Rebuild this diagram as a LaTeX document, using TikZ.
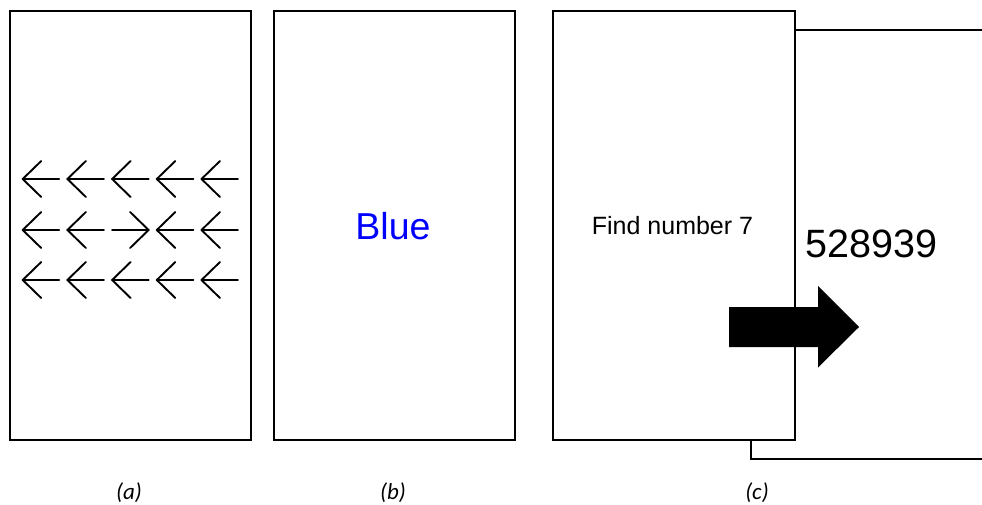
\documentclass[tikz,border=0pt]{standalone}
\usepackage{fontspec}
\setmainfont{Liberation Sans}
\newfontfamily\capfont{Carlito}
\begin{document}
\begin{tikzpicture}[x=1pt,y=-1pt,
  panel/.style={draw=black, line width=1.6pt, fill=white},
  chev/.style={draw=black, line width=1.9pt, line cap=round, line join=round},
  caplabel/.style={font=\capfont\itshape\fontsize{23}{26}\selectfont, inner sep=0pt},
  bigarrow/.style={fill=black, draw=none}]
\clip (0,0) rectangle (982,504);
\fill[white] (0,0) rectangle (982,504);
% panel (a)
\node[panel, minimum width=241pt, minimum height=429pt, anchor=north west, inner sep=0pt] (pa) at (9,10) {};
\foreach \r/\yy in {1/179, 2/230, 3/280} {
  \foreach \c in {0,...,4} {
    \pgfmathsetmacro{\xs}{22.7+44.7*\c}
    \pgfmathsetmacro{\xe}{\xs+36.5}
    \ifnum\r=2 \ifnum\c=2
      \draw[chev] (\xs,\yy) -- (\xe,\yy);
      \draw[chev] (\xe-18.5,\yy-18) -- (\xe,\yy) -- (\xe-18.5,\yy+18);
    \else
      \draw[chev] (\xe,\yy) -- (\xs,\yy);
      \draw[chev] (\xs+18.5,\yy-18) -- (\xs,\yy) -- (\xs+18.5,\yy+18);
    \fi\else
      \draw[chev] (\xe,\yy) -- (\xs,\yy);
      \draw[chev] (\xs+18.5,\yy-18) -- (\xs,\yy) -- (\xs+18.5,\yy+18);
    \fi
  }
}
% panel (b)
\node[panel, minimum width=241pt, minimum height=429pt, anchor=north west, inner sep=0pt] (pb) at (273,10) {};
\node[text=blue, font=\fontsize{37.5}{40}\selectfont, inner sep=0pt] (blue) at (393,226) {Blue};
% panel (c): back card first
\node[panel, minimum width=260pt, minimum height=429pt, anchor=north west, inner sep=0pt] (pcback) at (750,29) {};
\node[panel, minimum width=242pt, minimum height=429pt, anchor=north west, inner sep=0pt] (pc) at (552,10) {};
\node[font=\fontsize{25}{30}\selectfont, inner sep=0pt] (find) at (672.5,226) {Find number 7};
\node[font=\fontsize{39.5}{44}\selectfont, inner sep=0pt] (num) at (871.5,244) {528939};
\fill[bigarrow] (729,307) -- (818,307) -- (818,286) -- (859,327) -- (818,367.5) -- (818,347) -- (729,347) -- cycle;
% captions
\node[caplabel] (la) at (129,493) {(a)};
\node[caplabel] (lb) at (393,493) {(b)};
\node[caplabel] (lc) at (757,493) {(c)};
\end{tikzpicture}
\end{document}
